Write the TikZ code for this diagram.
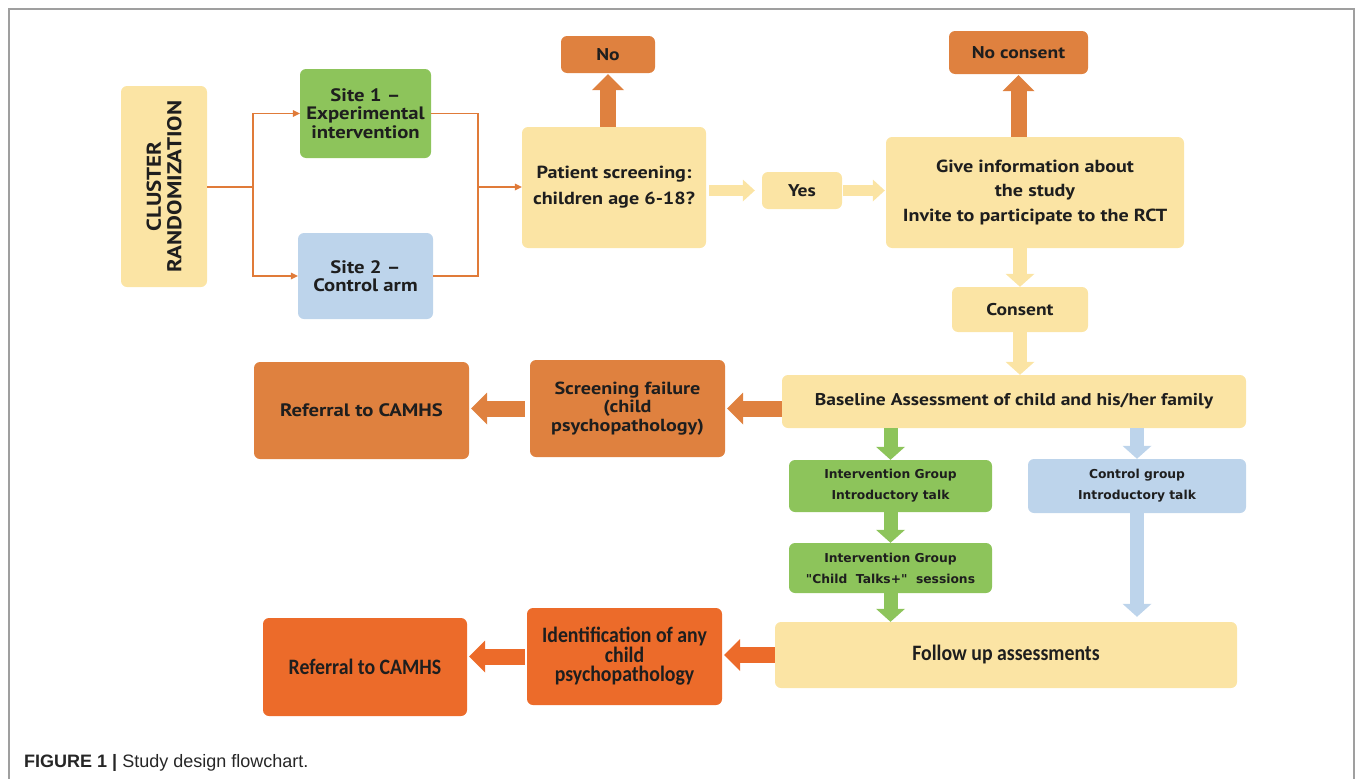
\documentclass[tikz,border=0pt]{standalone}
\usepackage{fontspec}
\setmainfont[FakeStretch=1.15]{PT Sans}
\newfontfamily\verd{DejaVu Sans}
\newfontfamily\cond[FakeStretch=0.9]{Carlito}
\newfontfamily\arial{Liberation Sans}
\usetikzlibrary{arrows.meta}
\definecolor{yel}{HTML}{FBE4A4}
\definecolor{grn}{HTML}{8DC45B}
\definecolor{blu}{HTML}{BDD4EB}
\definecolor{orA}{HTML}{DF813F}
\definecolor{orB}{HTML}{EC6B2A}
\definecolor{lnk}{HTML}{E07B39}
\definecolor{txt}{HTML}{1E1E1E}
\tikzset{
  box/.style={rounded corners=6pt, inner sep=2pt, align=center, text=txt, draw=none},
  ptf/.style={font=\bfseries\fontsize{17}{24}\selectfont},
  vf/.style={font=\verd\bfseries\fontsize{12.3}{21}\selectfont},
  cf/.style={font=\cond\bfseries\fontsize{22}{19.5}\selectfont},
  thinlink/.style={draw=lnk, line width=1.3pt},
  thinarrow/.style={thinlink, -{Triangle[width=7pt 0 0,length=7pt 0 0,line width=0pt 0 0]}},
  fat/.style={line width=16pt, -{Triangle[width=32pt 0 0,length=16pt 0 0,line width=0pt 0 0]}},
  slim/.style={line width=11pt, -{Triangle[width=22pt 0 0,length=12pt 0 0,line width=0pt 0 0]}},
  mid/.style={line width=14pt, -{Triangle[width=29pt 0 0,length=13pt 0 0,line width=0pt 0 0]}},
}
\begin{document}
\begin{tikzpicture}[x=1pt,y=-1pt]
\useasboundingbox (0,0) rectangle (1355,779);
\draw[gray!75, line width=1.5pt] (9,779) -- (9,9) -- (1354,9) -- (1354,779);

% nodes
\node[box, fill=yel, minimum width=86pt, minimum height=201pt] (cr) at (164,186.5) {};
\node[rotate=90, align=center, text=txt, font=\bfseries\fontsize{20}{20.5}\selectfont] (crt) at (cr.center) {CLUSTER\\RANDOMIZATION};
\node[box, fill=grn, minimum width=131pt, minimum height=89pt, font=\bfseries\fontsize{18}{18.3}\selectfont] (s1) at (365.5,113.5) {Site 1 --\\Experimental\\intervention};
\node[box, fill=blu, minimum width=135pt, minimum height=86pt, font=\bfseries\fontsize{18}{17.5}\selectfont] (s2) at (365.5,276) {Site 2 --\\Control arm};
\node[box, fill=yel, minimum width=184pt, minimum height=121pt, font=\bfseries\fontsize{17.5}{26}\selectfont] (ps) at (614,187.5) {Patient screening:\\children age 6-18?};
\node[box, fill=orA, minimum width=94pt, minimum height=37pt, ptf] (no) at (608,54.5) {No};
\node[box, fill=yel, minimum width=80pt, minimum height=37pt, ptf] (yes) at (802,190.5) {Yes};
\node[box, fill=yel, minimum width=298pt, minimum height=111pt, font=\bfseries\fontsize{17.5}{24.5}\selectfont] (gi) at (1035,192.5) {Give information about\\the study\\Invite to participate to the RCT};
\node[box, fill=orA, minimum width=139pt, minimum height=43pt, ptf] (nc) at (1018.5,52.5) {No consent};
\node[box, fill=yel, minimum width=136pt, minimum height=45pt, ptf] (cs) at (1020,309.5) {Consent};
\node[box, fill=yel, minimum width=464pt, minimum height=53pt, font=\bfseries\fontsize{17}{24}\selectfont] (bl) at (1014,401.5) {Baseline Assessment of child and his/her family};
\node[box, fill=orA, minimum width=195pt, minimum height=97pt, font=\bfseries\fontsize{17.5}{18.5}\selectfont] (sf) at (627.5,408.5) {Screening failure\\(child\\psychopathology)};
\node[box, fill=orA, minimum width=215pt, minimum height=97pt, font=\bfseries\fontsize{18}{24}\selectfont] (r1) at (361.5,410.5) {Referral to CAMHS};
\node[box, fill=grn, minimum width=203pt, minimum height=52pt, vf] (ig1) at (890.5,486) {Intervention Group\\Introductory talk};
\node[box, fill=blu, minimum width=218pt, minimum height=54pt, vf] (cg) at (1137,486) {Control group\\Introductory talk};
\node[box, fill=grn, minimum width=203pt, minimum height=50pt, vf] (ig2) at (890.5,568) {Intervention Group\\"Child~ Talks+" ~sessions};
\node[box, fill=yel, minimum width=462pt, minimum height=66pt, cf] (fu) at (1006,655) {Follow up assessments};
\node[box, fill=orB, minimum width=195pt, minimum height=97pt, cf] (id) at (624.5,656.5) {Identification of any\\child\\psychopathology};
\node[box, fill=orB, minimum width=204pt, minimum height=98pt, cf] (r2) at (365,667) {Referral to CAMHS};

% thin connectors
\coordinate (j1) at (253,187);
\coordinate (j2) at (478,187);
\draw[thinlink] (cr.east |- j1) -- (j1);
\draw[thinarrow] (j1) |- (s1.west);
\draw[thinarrow] (j1) |- (s2.west);
\draw[thinlink] (s1.east) -| (j2);
\draw[thinlink] (s2.east) -| (j2);
\draw[thinarrow] (j2) -- (j2 -| ps.west);

% fat arrows
\draw[fat, orA, shorten >=1pt] (no.south |- ps.north) -- (no.south);
\draw[fat, orA, shorten >=1pt] (nc.south |- gi.north) -- (nc.south);
\draw[slim, yel, shorten <=3pt, shorten >=7pt] (ps.east |- yes.west) -- (yes.west);
\draw[slim, yel, shorten <=1pt, shorten >=1pt] (yes.east) -- (yes.east -| gi.west);
\draw[mid, yel] (cs.north |- gi.south) -- (cs.north);
\draw[mid, yel] (cs.south) -- (cs.south |- bl.north);
\draw[fat, orA, shorten >=2pt] (bl.west |- sf.east) -- (sf.east);
\draw[fat, orA, shorten <=5pt, shorten >=2pt] (sf.west) -- (sf.west -| r1.east);
\draw[mid, grn] (ig1.north |- bl.south) -- (ig1.north);
\draw[mid, blu] (cg.north |- bl.south) -- (cg.north);
\draw[mid, grn] (ig1.south) -- (ig2.north);
\draw[mid, grn] (ig2.south) -- (ig2.south |- fu.north);
\draw[mid, blu, shorten >=5pt] (cg.south) -- (cg.south |- fu.north);
\draw[fat, orB, shorten >=2pt] (fu.west) -- (fu.west -| id.east);
\draw[fat, orB, shorten <=2pt, shorten >=2pt] (id.west) -- (id.west -| r2.east);

% caption
\node[anchor=west, inner sep=0pt, font=\arial\fontsize{18}{20}\selectfont, text=black!85] (cap) at (24,763) {\textbf{FIGURE 1 |} Study design flowchart.};
\end{tikzpicture}
\end{document}
